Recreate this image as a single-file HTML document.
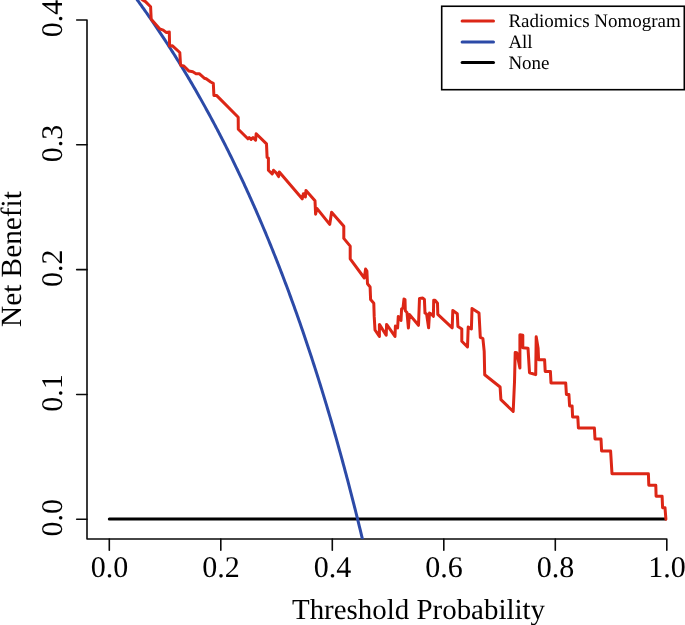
<!DOCTYPE html>
<html><head><meta charset="utf-8"><title>Decision curve</title>
<style>html,body{margin:0;padding:0;background:#fff;width:685px;height:625px;overflow:hidden}svg{display:block}#w{will-change:transform}text{text-rendering:geometricPrecision}</style>
</head><body><div id="w">
<svg width="685" height="625" viewBox="0 0 685 625"><defs><clipPath id="pc"><rect x="87" y="-50" width="700" height="589"/></clipPath></defs><g stroke="#0a0a0a" stroke-width="1.6" fill="none" stroke-linecap="round" stroke-linejoin="round"><path d="M76.7,20.01 L87.0,20.01 L87.0,539.0 L666.80,539.0 L666.80,550.2"/><path d="M76.7,519.25 L87.0,519.25"/><path d="M76.7,394.44 L87.0,394.44"/><path d="M76.7,269.63 L87.0,269.63"/><path d="M76.7,144.82 L87.0,144.82"/><path d="M109.30,539.0 L109.30,550.2"/><path d="M220.80,539.0 L220.80,550.2"/><path d="M332.30,539.0 L332.30,550.2"/><path d="M443.80,539.0 L443.80,550.2"/><path d="M555.30,539.0 L555.30,550.2"/></g><g font-family='"Liberation Serif", serif' font-size="30" fill="#000" text-anchor="middle"><text x="109.60" y="577.1">0.0</text><text x="221.10" y="577.1">0.2</text><text x="332.60" y="577.1">0.4</text><text x="444.10" y="577.1">0.6</text><text x="555.60" y="577.1">0.8</text><text x="667.10" y="577.1">1.0</text><text transform="translate(61.85,517.85) rotate(-90)" x="0" y="0">0.0</text><text transform="translate(61.85,393.04) rotate(-90)" x="0" y="0">0.1</text><text transform="translate(61.85,268.23) rotate(-90)" x="0" y="0">0.2</text><text transform="translate(61.85,143.42) rotate(-90)" x="0" y="0">0.3</text><text transform="translate(61.85,18.61) rotate(-90)" x="0" y="0">0.4</text></g><g font-family='"Liberation Serif", serif' font-size="29.3" fill="#000" text-anchor="middle"><text x="418.5" y="618.7" font-size="28.93">Threshold Probability</text><text transform="translate(21,259.1) rotate(-90)" x="0" y="0">Net Benefit</text></g><g clip-path="url(#pc)" fill="none" stroke-linecap="round" stroke-linejoin="round" stroke-width="3.0"><path d="M109.30,519.05 L665.5,519.05" stroke="#000"/><path d="M109.30,-36.65 L110.14,-35.61 L110.97,-34.57 L111.81,-33.52 L112.64,-32.48 L113.48,-31.42 L114.32,-30.37 L115.15,-29.31 L115.99,-28.25 L116.83,-27.18 L117.66,-26.11 L118.50,-25.04 L119.33,-23.97 L120.17,-22.89 L121.01,-21.81 L121.84,-20.72 L122.68,-19.63 L123.52,-18.54 L124.35,-17.45 L125.19,-16.35 L126.02,-15.25 L126.86,-14.14 L127.70,-13.03 L128.53,-11.92 L129.37,-10.80 L130.21,-9.69 L131.04,-8.56 L131.88,-7.44 L132.72,-6.31 L133.55,-5.17 L134.39,-4.04 L135.22,-2.90 L136.06,-1.75 L136.90,-0.61 L137.73,0.55 L138.57,1.70 L139.41,2.86 L140.24,4.02 L141.08,5.19 L141.91,6.36 L142.75,7.53 L143.59,8.71 L144.42,9.89 L145.26,11.07 L146.09,12.26 L146.93,13.45 L147.77,14.65 L148.60,15.85 L149.44,17.05 L150.28,18.26 L151.11,19.47 L151.95,20.69 L152.78,21.91 L153.62,23.13 L154.46,24.36 L155.29,25.59 L156.13,26.82 L156.97,28.06 L157.80,29.31 L158.64,30.55 L159.47,31.81 L160.31,33.06 L161.15,34.32 L161.98,35.59 L162.82,36.85 L163.66,38.13 L164.49,39.40 L165.33,40.68 L166.16,41.97 L167.00,43.26 L167.84,44.55 L168.67,45.85 L169.51,47.15 L170.35,48.46 L171.18,49.77 L172.02,51.09 L172.85,52.41 L173.69,53.73 L174.53,55.06 L175.36,56.40 L176.20,57.74 L177.04,59.08 L177.87,60.43 L178.71,61.78 L179.55,63.14 L180.38,64.50 L181.22,65.86 L182.05,67.24 L182.89,68.61 L183.73,69.99 L184.56,71.38 L185.40,72.77 L186.24,74.16 L187.07,75.56 L187.91,76.97 L188.74,78.38 L189.58,79.79 L190.42,81.21 L191.25,82.63 L192.09,84.06 L192.93,85.50 L193.76,86.94 L194.60,88.38 L195.43,89.83 L196.27,91.29 L197.11,92.75 L197.94,94.21 L198.78,95.68 L199.62,97.16 L200.45,98.64 L201.29,100.13 L202.12,101.62 L202.96,103.12 L203.80,104.62 L204.63,106.13 L205.47,107.64 L206.31,109.16 L207.14,110.68 L207.98,112.21 L208.81,113.75 L209.65,115.29 L210.49,116.84 L211.32,118.39 L212.16,119.95 L213.00,121.51 L213.83,123.08 L214.67,124.66 L215.50,126.24 L216.34,127.83 L217.18,129.42 L218.01,131.02 L218.85,132.63 L219.69,134.24 L220.52,135.85 L221.36,137.48 L222.19,139.11 L223.03,140.74 L223.87,142.39 L224.70,144.03 L225.54,145.69 L226.38,147.35 L227.21,149.01 L228.05,150.69 L228.88,152.37 L229.72,154.05 L230.56,155.75 L231.39,157.44 L232.23,159.15 L233.06,160.86 L233.90,162.58 L234.74,164.31 L235.57,166.04 L236.41,167.78 L237.25,169.52 L238.08,171.28 L238.92,173.03 L239.75,174.80 L240.59,176.57 L241.43,178.35 L242.26,180.14 L243.10,181.93 L243.94,183.74 L244.77,185.54 L245.61,187.36 L246.44,189.18 L247.28,191.01 L248.12,192.85 L248.95,194.69 L249.79,196.55 L250.63,198.41 L251.46,200.27 L252.30,202.15 L253.13,204.03 L253.97,205.92 L254.81,207.82 L255.64,209.72 L256.48,211.63 L257.32,213.55 L258.15,215.48 L258.99,217.42 L259.82,219.36 L260.66,221.32 L261.50,223.28 L262.33,225.25 L263.17,227.22 L264.01,229.21 L264.84,231.20 L265.68,233.20 L266.51,235.21 L267.35,237.23 L268.19,239.26 L269.02,241.29 L269.86,243.34 L270.70,245.39 L271.53,247.45 L272.37,249.52 L273.20,251.60 L274.04,253.69 L274.88,255.78 L275.71,257.89 L276.55,260.00 L277.39,262.13 L278.22,264.26 L279.06,266.40 L279.89,268.55 L280.73,270.71 L281.57,272.88 L282.40,275.06 L283.24,277.25 L284.08,279.45 L284.91,281.66 L285.75,283.87 L286.58,286.10 L287.42,288.34 L288.26,290.58 L289.09,292.84 L289.93,295.11 L290.77,297.39 L291.60,299.67 L292.44,301.97 L293.28,304.28 L294.11,306.60 L294.95,308.93 L295.78,311.26 L296.62,313.61 L297.46,315.97 L298.29,318.35 L299.13,320.73 L299.97,323.12 L300.80,325.52 L301.64,327.94 L302.47,330.36 L303.31,332.80 L304.15,335.25 L304.98,337.71 L305.82,340.18 L306.65,342.66 L307.49,345.16 L308.33,347.66 L309.16,350.18 L310.00,352.71 L310.84,355.25 L311.67,357.80 L312.51,360.37 L313.34,362.94 L314.18,365.53 L315.02,368.13 L315.85,370.75 L316.69,373.37 L317.53,376.01 L318.36,378.66 L319.20,381.33 L320.04,384.01 L320.87,386.70 L321.71,389.40 L322.54,392.12 L323.38,394.85 L324.22,397.59 L325.05,400.34 L325.89,403.11 L326.73,405.90 L327.56,408.70 L328.40,411.51 L329.23,414.33 L330.07,417.17 L330.91,420.02 L331.74,422.89 L332.58,425.77 L333.42,428.67 L334.25,431.58 L335.09,434.51 L335.92,437.45 L336.76,440.40 L337.60,443.37 L338.43,446.36 L339.27,449.36 L340.11,452.37 L340.94,455.40 L341.78,458.45 L342.61,461.51 L343.45,464.59 L344.29,467.69 L345.12,470.80 L345.96,473.92 L346.80,477.07 L347.63,480.23 L348.47,483.40 L349.30,486.60 L350.14,489.81 L350.98,493.03 L351.81,496.28 L352.65,499.54 L353.49,502.82 L354.32,506.11 L355.16,509.43 L355.99,512.76 L356.83,516.11 L357.67,519.48 L358.50,522.86 L359.34,526.27 L360.18,529.69 L361.01,533.13 L361.85,536.59 L362.68,540.07 L363.52,543.57 L364.36,547.09 L365.19,550.63 L366.03,554.18 L366.87,557.76 L367.70,561.36 L368.54,564.97 L369.37,568.61 L370.21,572.27 L371.05,575.95 L371.88,579.65 L372.72,583.37 L373.56,587.11 L374.39,590.88 L375.23,594.66 L376.06,598.47 L376.90,602.30 L377.74,606.15 L378.57,610.02 L379.41,613.92 L380.25,617.84 L381.08,621.78 L381.92,625.74 L382.75,629.73 L383.59,633.74 L384.43,637.78 L385.26,641.84 L386.10,645.92 L386.94,650.03 L387.77,654.16 L388.61,658.32 L389.44,662.50 L390.28,666.71 L391.12,670.94 L391.95,675.20 L392.79,679.48 L393.62,683.80 L394.46,688.13 L395.30,692.50 L396.13,696.89 L396.97,701.31 L397.81,705.75 L398.64,710.23 L399.48,714.73 L400.31,719.26 L401.15,723.82 L401.99,728.41 L402.82,733.02 L403.66,737.67 L404.50,742.34 L405.33,747.05 L406.17,751.78 L407.01,756.55 L407.84,761.35 L408.68,766.17 L409.51,771.03 L410.35,775.92 L411.19,780.85 L412.02,785.80 L412.86,790.79 L413.70,795.81 L414.53,800.87 L415.37,805.95 L416.20,811.07 L417.04,816.23 L417.88,821.42 L418.71,826.65 L419.55,831.91 L420.39,837.20 L421.22,842.54 L422.06,847.91 L422.89,853.31 L423.73,858.76 L424.57,864.24 L425.40,869.76 L426.24,875.31 L427.08,880.91 L427.91,886.54 L428.75,892.22 L429.58,897.93 L430.42,903.69 L431.26,909.48 L432.09,915.32 L432.93,921.20 L433.76,927.12 L434.60,933.09 L435.44,939.09 L436.27,945.14 L437.11,951.24 L437.95,957.38 L438.78,963.56 L439.62,969.79 L440.45,976.07 L441.29,982.39 L442.13,988.76 L442.96,995.18 L443.80,1001.64" stroke="#2c4aa7"/><path d="M140.5,-2.0 L142.6,0.0 L145.5,1.6 L150.6,6.7 L151.2,19.2 L159.6,28.8 L163.2,30.1 L166.1,32.4 L169.3,32.0 L169.6,46.1 L172.5,45.8 L179.8,52.5 L180.5,64.0 L181.0,65.4 L183.8,66.0 L189.0,71.1 L192.8,71.8 L196.0,73.7 L199.2,73.7 L204.3,78.2 L206.2,78.8 L210.7,82.0 L213.3,83.3 L213.9,95.4 L216.5,95.4 L238.2,117.2 L238.3,129.2 L247.9,138.8 L249.2,137.5 L251.1,139.4 L253.0,137.5 L255.6,140.1 L256.2,133.7 L266.5,143.9 L267.1,157.4 L268.4,158.0 L268.4,170.2 L272.2,174.0 L273.5,170.2 L276.7,173.4 L278.6,176.6 L279.3,172.1 L302.2,198.8 L303.4,193.7 L305.4,196.9 L306.0,190.5 L315.0,200.7 L315.6,214.2 L316.9,208.4 L329.7,224.4 L331.6,212.2 L343.8,226.3 L343.8,238.4 L350.2,246.1 L350.2,258.8 L364.3,278.0 L365.6,269.0 L366.9,271.0 L367.5,283.8 L370.1,287.0 L370.6,299.6 L373.8,303.2 L374.2,316.4 L375.0,330.0 L379.4,336.4 L379.4,324.4 L386.2,335.2 L386.6,324.4 L395.0,336.4 L395.4,326.0 L397.6,328.0 L398.3,316.4 L401.0,320.5 L401.6,308.8 L403.0,308.2 L404.0,299.0 L405.0,299.5 L405.3,310.8 L407.0,312.5 L408.4,328.0 L409.4,314.4 L418.5,325.3 L419.5,298.4 L422.8,298.1 L424.4,299.4 L425.0,313.1 L426.6,314.1 L428.6,327.8 L429.5,313.1 L431.0,313.8 L433.4,316.3 L433.7,300.3 L435.0,300.3 L437.5,303.2 L437.8,314.4 L452.2,327.8 L452.8,310.5 L457.3,313.7 L457.9,326.5 L461.8,329.0 L461.8,341.2 L467.5,347.0 L468.2,327.1 L471.4,329.0 L472.0,308.6 L479.0,313.0 L480.3,337.4 L482.9,338.6 L484.2,351.4 L484.7,374.8 L500.1,387.0 L500.9,399.6 L513.2,411.5 L514.5,382.0 L515.2,352.5 L516.8,352.8 L519.9,368.0 L519.9,334.8 L522.8,335.3 L522.8,347.8 L528.0,348.2 L529.5,372.7 L535.7,374.6 L536.2,336.7 L538.1,348.2 L538.6,359.8 L544.6,359.8 L545.2,371.4 L550.4,371.4 L551.0,382.9 L565.7,382.9 L566.4,394.4 L568.9,394.4 L569.6,405.9 L572.1,405.9 L572.6,417.0 L577.8,417.0 L578.4,428.0 L594.4,428.0 L595.0,439.0 L601.0,439.0 L601.6,451.0 L610.6,451.0 L612.0,473.7 L648.4,473.8 L648.8,485.2 L655.8,485.2 L656.1,496.2 L662.1,496.2 L662.6,507.7 L665.0,507.7 L665.9,519.2" stroke="#dc2616"/></g><rect x="441.7" y="6.25" width="242.6" height="83.45" fill="none" stroke="#000" stroke-width="1.6"/><g stroke-width="3.0" stroke-linecap="round"><path d="M462.1,21.1 L493.5,21.1" stroke="#dc2616"/><path d="M462.1,41.95 L493.5,41.95" stroke="#2c4aa7"/><path d="M462.1,62.6 L493.5,62.6" stroke="#000"/></g><g font-family='"Liberation Serif", serif' font-size="18.98" fill="#000"><text x="508.4" y="27.3">Radiomics Nomogram</text><text x="508.4" y="48.2">All</text><text x="508.4" y="69.2">None</text></g></svg>
</div></body></html>
